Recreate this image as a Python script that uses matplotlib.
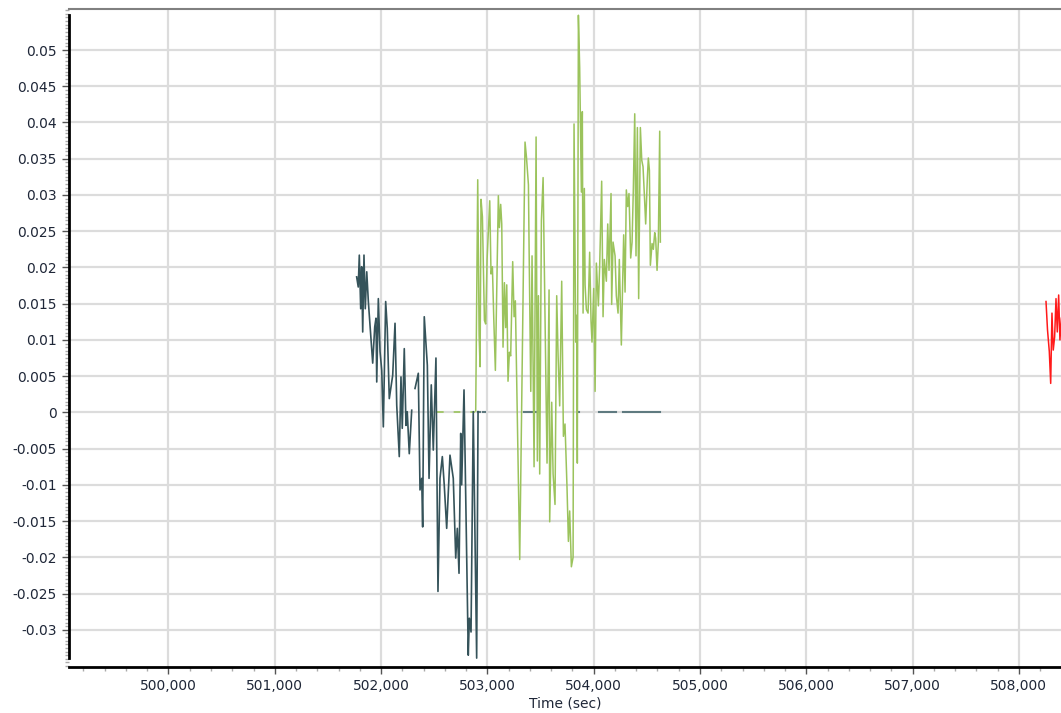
import numpy as np
import matplotlib
matplotlib.use("Agg")
import matplotlib.pyplot as plt
from matplotlib.ticker import MultipleLocator, FixedLocator, FuncFormatter

# dark series (nan = gap in the trace)
dark_x = [501770, 501785, 501795, 501808, 501817, 501827, 501839, 501851, 501865, 501880,
          501921, 501940, 501952, 501959, 501974, 501990, 502006, 502021, 502043, 502058,
          502077, 502109, 502131, 502147, 502171, 502187, 502199, 502218, 502234, 502246,
          502265, 502288, np.nan,
          502319, 502350, 502366, 502382, 502391, 502406, 502435, 502451, 502472, 502491,
          502516, 502535, 502554, 502576, 502594, 502617, 502648, 502679, 502702, 502717,
          502733, 502749, 502758, 502780, 502820, 502830, 502846, 502867, 502899, 502912]
dark_y = [0.0187, 0.0173, 0.0217, 0.0143, 0.0201, 0.0111, 0.0217, 0.0143, 0.0194, 0.0153,
          0.0068, 0.0118, 0.0130, 0.0042, 0.0157, 0.0084, 0.0058, -0.0020, 0.0153, 0.0116,
          0.0019, 0.0051, 0.0123, 0.0010, -0.0061, 0.0049, -0.0022, 0.0088, -0.0018, 0.0001,
          -0.0057, 0.0003, np.nan,
          0.0033, 0.0054, -0.0107, -0.0091, -0.0158, 0.0132, 0.0065, -0.0091, 0.0038, -0.0052,
          0.0075, -0.0247, -0.0091, -0.0061, -0.0100, -0.0160, -0.0059, -0.0091, -0.0201, -0.0160,
          -0.0222, -0.0029, -0.0100, 0.0031, -0.0335, -0.0284, -0.0303, 0.0001, -0.0339, 0.0001]

# green series
green_x = [502890, 502909, 502922, 502931, 502940, 502953, 502972, 502984, 502997, 503022,
           503034, 503047, 503060, 503075, 503103, 503113, 503125, 503135, 503147, 503160,
           503172, 503182, 503194, 503207, 503219, 503238, 503251, 503263, 503304, 503354,
           503367, 503386, 503392, 503408, 503420, 503439, 503458, 503470, 503480, 503492,
           503508, 503524, 503561, 503580, 503586, 503605, 503618, 503636, 503652, 503665,
           503680, 503699, 503715, 503730, 503749, 503762, 503774, 503790, 503806, 503815,
           503831, 503840, 503846, 503856, 503868, 503884, 503893, 503900, 503912, 503919,
           503931, 503947, 503962, 503975, 503984, 504000, 504013, 504025, 504044, 504056,
           504075, 504088, 504100, 504119, 504132, 504144, 504163, 504169, 504182, 504201,
           504213, 504229, 504241, 504260, 504282, 504295, 504307, 504320, 504332, 504348,
           504361, 504373, 504386, 504398, 504411, 504423, 504439, 504452, 504464, 504477,
           504489, 504505, 504514, 504524, 504533, 504549, 504561, 504574, 504583, 504596,
           504608, 504621, 504627]
green_y = [0.0002, 0.0321, 0.0107, 0.0063, 0.0294, 0.0270, 0.0127, 0.0122, 0.0211, 0.0292,
           0.0191, 0.0201, 0.0129, 0.0058, 0.0299, 0.0255, 0.0287, 0.0260, 0.0090, 0.0179,
           0.0117, 0.0176, 0.0043, 0.0083, 0.0078, 0.0208, 0.0132, 0.0154, -0.0203, 0.0373,
           0.0353, 0.0314, 0.0230, 0.0029, 0.0216, -0.0075, 0.0380, -0.0067, 0.0161, -0.0085,
           0.0265, 0.0324, -0.0070, 0.0169, -0.0151, 0.0014, -0.0085, -0.0127, 0.0161, 0.0078,
           0.0009, 0.0181, -0.0033, -0.0016, -0.0104, -0.0178, -0.0136, -0.0213, -0.0200, 0.0398,
           0.0097, 0.0134, -0.0070, 0.0548, 0.0476, 0.0304, 0.0415, 0.0137, 0.0309, 0.0176,
           0.0142, 0.0137, 0.0221, 0.0125, 0.0097, 0.0171, 0.0029, 0.0206, 0.0147, 0.0201,
           0.0319, 0.0132, 0.0211, 0.0181, 0.0260, 0.0196, 0.0302, 0.0149, 0.0235, 0.0216,
           0.0161, 0.0137, 0.0211, 0.0093, 0.0245, 0.0166, 0.0307, 0.0284, 0.0302, 0.0213,
           0.0235, 0.0309, 0.0412, 0.0216, 0.0393, 0.0157, 0.0393, 0.0348, 0.0339, 0.0299,
           0.0260, 0.0324, 0.0351, 0.0334, 0.0203, 0.0233, 0.0225, 0.0248, 0.0240, 0.0196,
           0.0235, 0.0388, 0.0235]

# red series (runs off the right edge)
red_x = [508255, 508269, 508286, 508299, 508311, 508323, 508336, 508349, 508361, 508374, 508386, 508400]
red_y = [0.0153, 0.0114, 0.0084, 0.0040, 0.0137, 0.0086, 0.0104, 0.0157, 0.0111, 0.0162, 0.0100, 0.0130]

# short stretches sitting on zero
zero_gray_x = [502915, 502935, np.nan, 502955, 502975, np.nan, 503345, 503400, np.nan,
               503415, 503461, np.nan, 503855, 503865, np.nan, 504050, 504154, np.nan,
               504169, 504210, np.nan, 504278, 504294, np.nan, 504310, 504627]
zero_gray_y = [0, 0, np.nan, 0, 0, np.nan, 0, 0, np.nan,
               0, 0, np.nan, 0, 0, np.nan, 0, 0, np.nan,
               0, 0, np.nan, 0, 0, np.nan, 0, 0]
zero_green_x = [502526, 502883]
zero_green_y = [0, 0]

y_ticks = [-0.03, -0.025, -0.02, -0.015, -0.01, -0.005, 0, 0.005, 0.01, 0.015,
           0.02, 0.025, 0.03, 0.035, 0.04, 0.045, 0.05]

label_color = '#1f2738'

fig = plt.figure(figsize=(10.61, 7.13), dpi=100)
ax = fig.add_axes([69 / 1061, 1 - 667 / 713, 1 - 69 / 1061, (667 - 9) / 713])

ax.plot(zero_green_x, zero_green_y, color='#9bc35c', lw=1.2, ls=(0, (4, 6)))
ax.plot(zero_gray_x, zero_gray_y, color='#5f7a80', lw=1.5)
ax.plot(dark_x, dark_y, color='#35535a', lw=1.2)
ax.plot(green_x, green_y, color='#9bc35c', lw=1.1)
ax.plot(red_x, red_y, color='#ff1a1a', lw=1.1)

ax.set_xlim(499064, 508396)
ax.set_ylim(-0.03513, 0.05566)

ax.xaxis.set_major_locator(MultipleLocator(1000))
ax.xaxis.set_minor_locator(MultipleLocator(200))
ax.yaxis.set_major_locator(FixedLocator(y_ticks))
ax.yaxis.set_minor_locator(MultipleLocator(0.0005))
ax.xaxis.set_major_formatter(FuncFormatter(lambda v, p: '{:,.0f}'.format(v)))
ax.yaxis.set_major_formatter(FuncFormatter(lambda v, p: '0' if abs(v) < 1e-9 else '{:g}'.format(round(v, 4))))

ax.grid(True, which='major', color='#dcdcdc', lw=1.6)
ax.set_axisbelow(True)

ax.tick_params(axis='both', which='major', length=5, width=1, color='#555555',
               labelsize=10, labelcolor=label_color, pad=4)
ax.tick_params(axis='y', which='minor', length=3, width=1, color='#aaaaaa')
ax.tick_params(axis='x', which='minor', length=3, width=1, color='#aaaaaa')

ax.spines['right'].set_visible(False)
ax.spines['top'].set_color('#808080')
ax.spines['top'].set_linewidth(1.5)
ax.spines['left'].set_linewidth(2)
ax.spines['left'].set_color('black')
ax.spines['left'].set_bounds(-0.0339, 0.0548)
ax.spines['bottom'].set_linewidth(2)
ax.spines['bottom'].set_color('black')

ax.set_xlabel('Time (sec)', fontsize=10, color=label_color, labelpad=2)

fig.savefig('out.png', dpi=100)
